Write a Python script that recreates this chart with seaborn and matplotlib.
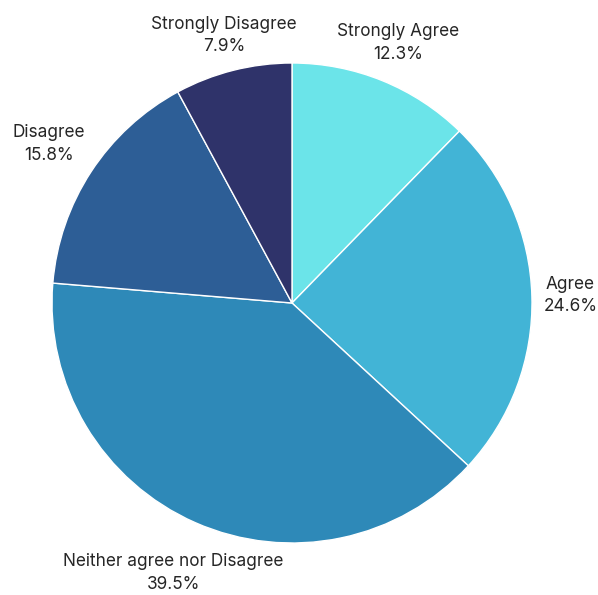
import numpy as np
import matplotlib
matplotlib.use("Agg")
import matplotlib.pyplot as plt
import seaborn as sns

categories = ["Strongly Agree", "Agree", "Neither agree nor Disagree", "Disagree", "Strongly Disagree"]
shares = [12.3, 24.6, 39.5, 15.8, 7.9]
colors = ["#6BE4E9", "#42B4D6", "#2E89B8", "#2D5E96", "#2F336A"]

sns.set_theme(style="white")
plt.rcParams["font.family"] = ["Inter", "DejaVu Sans"]
palette = sns.color_palette(colors)

W, H = 598, 595
R = 240.0
cx, cy = 292.0, 303.0

fig = plt.figure(figsize=(W / 100, H / 100), dpi=100)
ax = fig.add_axes([0, 0, 1, 1])
wedges, _ = ax.pie(shares, colors=palette, startangle=90, counterclock=False,
                   radius=1.0, wedgeprops=dict(edgecolor="white", linewidth=1.0))

label_dist = {"Strongly Agree": 1.17, "Agree": 1.16, "Neither agree nor Disagree": 1.23,
              "Disagree": 1.21, "Strongly Disagree": 1.15}
for w, name, val in zip(wedges, categories, shares):
    mid = np.deg2rad((w.theta1 + w.theta2) / 2)
    d = label_dist[name]
    ax.text(d * np.cos(mid), d * np.sin(mid), f"{name}\n{val:.1f}%",
            ha="center", va="center", fontsize=12.4, color="#262626", linespacing=1.45)

ax.set_xlim(-cx / R, (W - cx) / R)
ax.set_ylim(-(H - cy) / R, cy / R)
ax.set_aspect("auto")
ax.axis("off")
fig.savefig("out.png", dpi=100, facecolor="white")
